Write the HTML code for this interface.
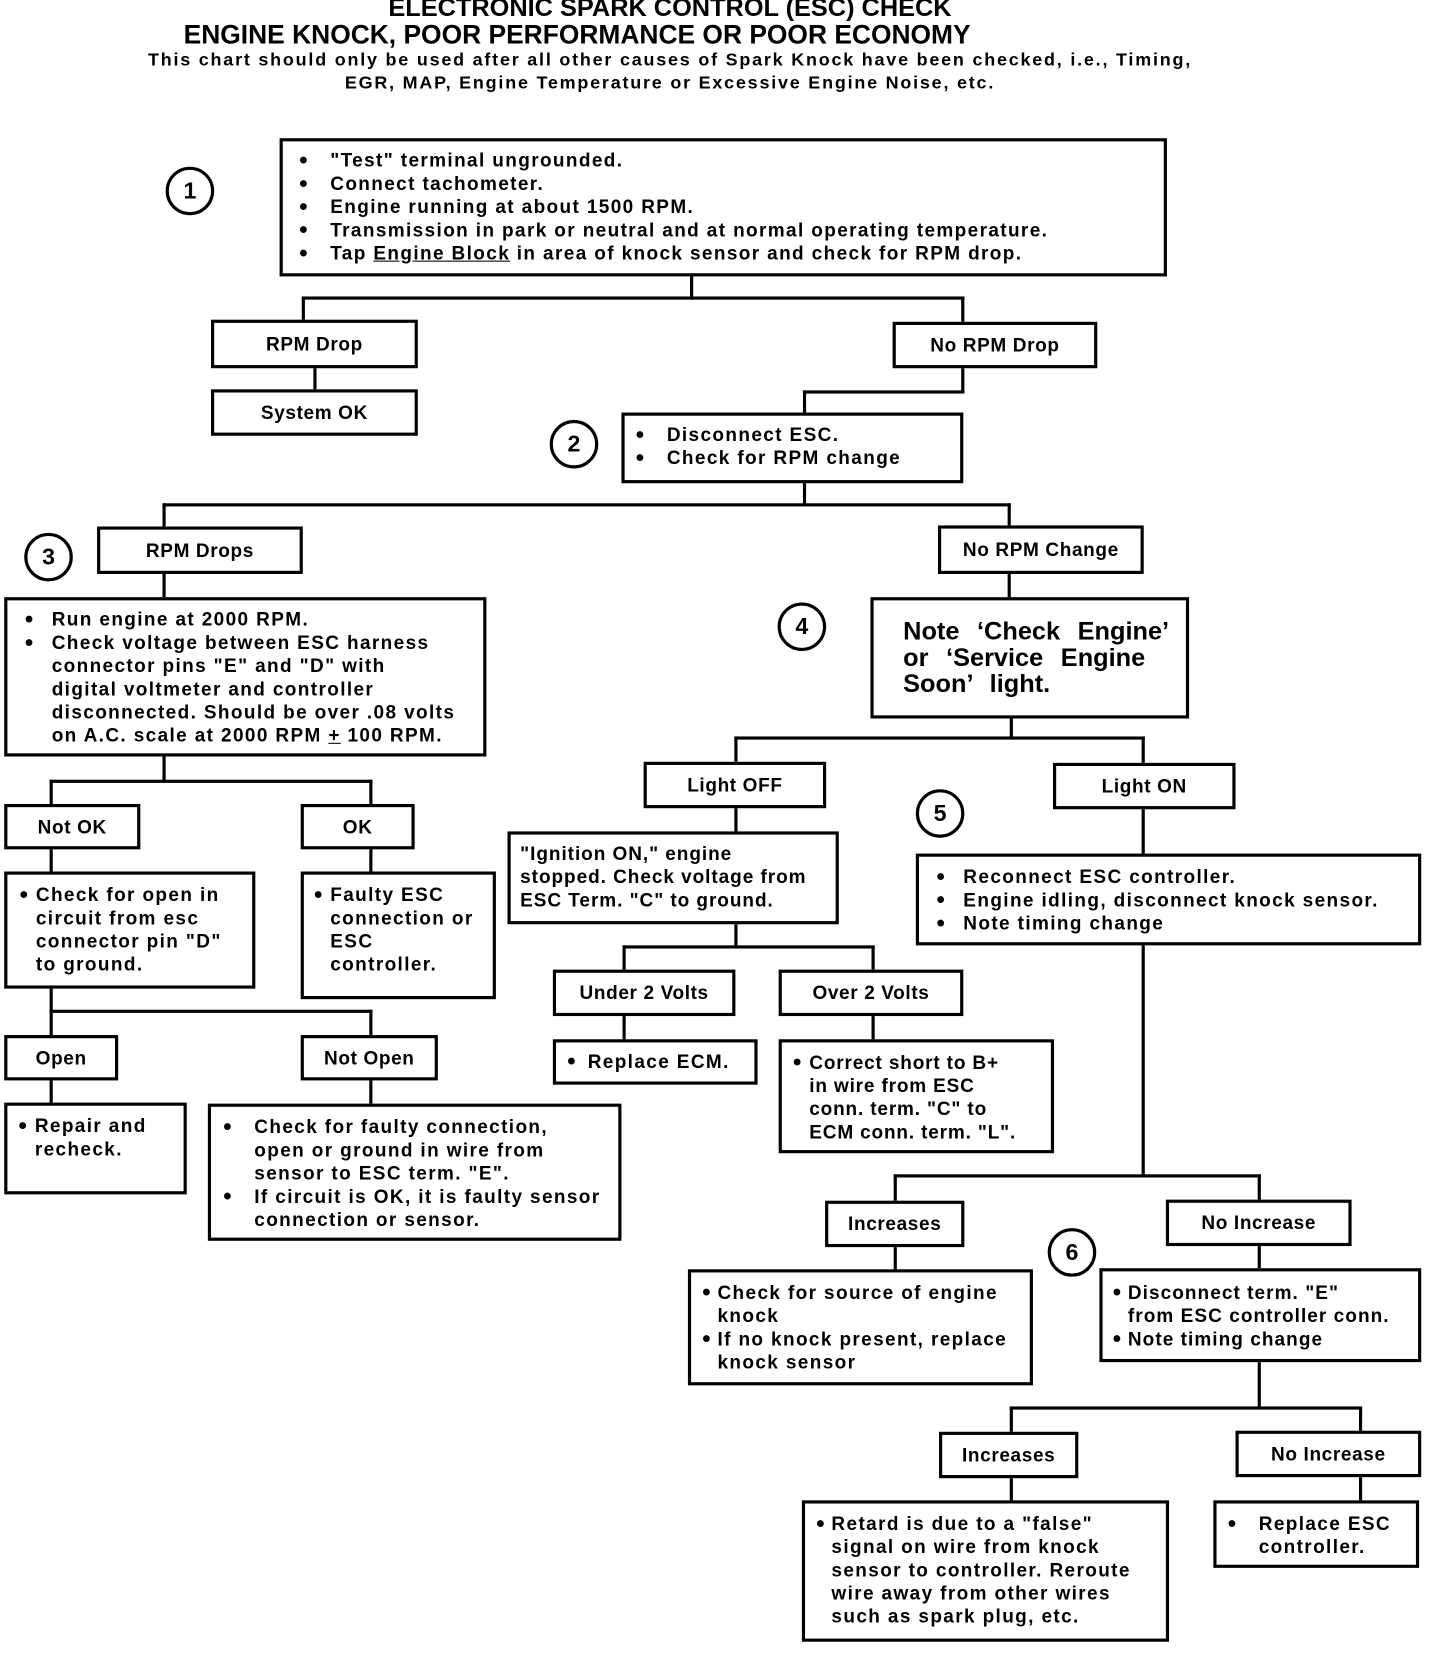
<!DOCTYPE html>
<html><head><meta charset="utf-8">
<style>
html,body{margin:0;padding:0;background:#fff;}
body{width:1456px;height:1658px;overflow:hidden;position:relative;}
#w{position:absolute;left:0;top:0;width:1380px;height:1572px;transform:scale(1.0551);transform-origin:0 0;font-family:"Liberation Sans",sans-serif;font-weight:bold;color:#000;}
.b{position:absolute;box-sizing:border-box;border:3px solid #000;background:#fff;font-size:18px;line-height:22px;letter-spacing:1.3px;}
.c{display:flex;align-items:center;justify-content:center;letter-spacing:0.6px;}
.h{position:absolute;height:3px;background:#000;}
.v{position:absolute;width:3px;background:#000;}
.l{position:relative;white-space:nowrap;}
.l i{position:absolute;font-style:normal;font-size:15px;}
.ci{position:absolute;box-sizing:border-box;border:3px solid #000;border-radius:50%;width:46px;height:46px;display:flex;align-items:center;justify-content:center;font-size:22px;}
.t{position:absolute;white-space:nowrap;text-align:center;left:0;width:1270px;}
</style></head><body><div id="w">

<div class="t" style="top:-6px;font-size:24px;">ELECTRONIC SPARK CONTROL (ESC) CHECK</div>
<div class="t" style="top:19px;font-size:25px;left:-88px;">ENGINE KNOCK, POOR PERFORMANCE OR POOR ECONOMY</div>
<div class="t" style="top:47px;font-size:17px;letter-spacing:1.7px;">This chart should only be used after all other causes of Spark Knock have been checked, i.e., Timing,</div>
<div class="t" style="top:69px;font-size:17px;letter-spacing:1.7px;">EGR, MAP, Engine Temperature or Excessive Engine Noise, etc.</div>

<!-- connectors -->
<div class="v" style="left:654px;top:262px;height:22px"></div>
<div class="h" style="left:286px;top:281px;width:628px"></div>
<div class="v" style="left:286px;top:281px;height:24px"></div>
<div class="v" style="left:911px;top:281px;height:26px"></div>
<div class="v" style="left:297px;top:348px;height:22px"></div>
<div class="v" style="left:911px;top:348px;height:24px"></div>
<div class="h" style="left:761px;top:370px;width:153px"></div>
<div class="v" style="left:761px;top:370px;height:22px"></div>
<div class="v" style="left:761px;top:457px;height:22px"></div>
<div class="h" style="left:154px;top:477px;width:804px"></div>
<div class="v" style="left:154px;top:477px;height:24px"></div>
<div class="v" style="left:955px;top:477px;height:23px"></div>
<div class="v" style="left:955px;top:543px;height:24px"></div>
<div class="v" style="left:154px;top:543px;height:24px"></div>
<div class="v" style="left:957px;top:680px;height:20px"></div>
<div class="h" style="left:696px;top:698px;width:389px"></div>
<div class="v" style="left:696px;top:698px;height:25px"></div>
<div class="v" style="left:1082px;top:698px;height:26px"></div>
<div class="v" style="left:696px;top:765px;height:24px"></div>
<div class="v" style="left:1082px;top:766px;height:44px"></div>
<div class="v" style="left:696px;top:875px;height:23px"></div>
<div class="h" style="left:590px;top:896px;width:239px"></div>
<div class="v" style="left:590px;top:896px;height:24px"></div>
<div class="v" style="left:826px;top:896px;height:24px"></div>
<div class="v" style="left:590px;top:962px;height:24px"></div>
<div class="v" style="left:826px;top:962px;height:24px"></div>
<div class="v" style="left:1082px;top:895px;height:220px"></div>
<div class="h" style="left:847px;top:1113px;width:348px"></div>
<div class="v" style="left:847px;top:1113px;height:26px"></div>
<div class="v" style="left:1192px;top:1113px;height:25px"></div>
<div class="v" style="left:847px;top:1181px;height:23px"></div>
<div class="v" style="left:1192px;top:1180px;height:23px"></div>
<div class="v" style="left:1192px;top:1290px;height:45px"></div>
<div class="h" style="left:957px;top:1333px;width:334px"></div>
<div class="v" style="left:957px;top:1333px;height:25px"></div>
<div class="v" style="left:1288px;top:1333px;height:24px"></div>
<div class="v" style="left:957px;top:1400px;height:23px"></div>
<div class="v" style="left:1288px;top:1399px;height:24px"></div>
<!-- left -->
<div class="v" style="left:154px;top:716px;height:25px"></div>
<div class="h" style="left:47px;top:739px;width:306px"></div>
<div class="v" style="left:47px;top:739px;height:24px"></div>
<div class="v" style="left:350px;top:739px;height:24px"></div>
<div class="v" style="left:47px;top:804px;height:23px"></div>
<div class="v" style="left:350px;top:804px;height:23px"></div>
<div class="v" style="left:47px;top:936px;height:46px"></div>
<div class="h" style="left:47px;top:957px;width:306px"></div>
<div class="v" style="left:350px;top:957px;height:25px"></div>
<div class="v" style="left:47px;top:1023px;height:23px"></div>
<div class="v" style="left:350px;top:1023px;height:24px"></div>

<!-- circles -->
<div class="ci" style="left:157px;top:158px">1</div>
<div class="ci" style="left:521px;top:398px">2</div>
<div class="ci" style="left:23px;top:505px">3</div>
<div class="ci" style="left:737px;top:571px">4</div>
<div class="ci" style="left:868px;top:748px">5</div>
<div class="ci" style="left:993px;top:1164px">6</div>

<!-- box 1 -->
<div class="b" style="left:265px;top:131px;width:841px;height:131px;padding:7px 0 0 45px;">
<div class="l"><i style="left:-30px">●</i>"Test" terminal ungrounded.</div>
<div class="l"><i style="left:-30px">●</i>Connect tachometer.</div>
<div class="l"><i style="left:-30px">●</i>Engine running at about 1500 RPM.</div>
<div class="l"><i style="left:-30px">●</i>Transmission in park or neutral and at normal operating temperature.</div>
<div class="l"><i style="left:-30px">●</i>Tap <u>Engine Block</u> in area of knock sensor and check for RPM drop.</div>
</div>

<div class="b c" style="left:200px;top:303px;width:196px;height:46px">RPM Drop</div>
<div class="b c" style="left:200px;top:369px;width:196px;height:44px">System OK</div>
<div class="b c" style="left:846px;top:305px;width:194px;height:44px">No RPM Drop</div>

<div class="b" style="left:589px;top:391px;width:324px;height:67px;padding:7px 0 0 40px">
<div class="l"><i style="left:-30px">●</i>Disconnect ESC.</div>
<div class="l"><i style="left:-30px">●</i>Check for RPM change</div>
</div>

<div class="b c" style="left:92px;top:499px;width:195px;height:45px">RPM Drops</div>
<div class="b c" style="left:889px;top:498px;width:195px;height:46px">No RPM Change</div>

<div class="b" style="left:825px;top:566px;width:302px;height:115px;padding:17px 0 0 28px;font-size:24px;line-height:25px;letter-spacing:0;">
<div class="l" style="word-spacing:10px">Note ‘Check Engine’</div>
<div class="l" style="word-spacing:10px">or ‘Service Engine</div>
<div class="l" style="word-spacing:10px">Soon’ light.</div>
</div>

<div class="b" style="left:4px;top:566px;width:457px;height:151px;padding:7px 0 0 42px">
<div class="l"><i style="left:-26px">●</i>Run engine at 2000 RPM.</div>
<div class="l"><i style="left:-26px">●</i>Check voltage between ESC harness</div>
<div class="l">connector pins "E" and "D" with</div>
<div class="l">digital voltmeter and controller</div>
<div class="l">disconnected. Should be over .08 volts</div>
<div class="l">on A.C. scale at 2000 RPM <u>+</u> 100 RPM.</div>
</div>

<div class="b c" style="left:610px;top:722px;width:173px;height:44px">Light OFF</div>
<div class="b c" style="left:998px;top:723px;width:173px;height:44px">Light ON</div>

<div class="b" style="left:481px;top:788px;width:314px;height:88px;padding:7px 0 0 9px;letter-spacing:0.9px">
<div class="l">"Ignition ON," engine</div>
<div class="l">stopped. Check voltage from</div>
<div class="l">ESC Term. "C" to ground.</div>
</div>

<div class="b" style="left:868px;top:809px;width:479px;height:87px;padding:8px 0 0 42px">
<div class="l"><i style="left:-26px">●</i>Reconnect ESC controller.</div>
<div class="l"><i style="left:-26px">●</i>Engine idling, disconnect knock sensor.</div>
<div class="l"><i style="left:-26px">●</i>Note timing change</div>
</div>

<div class="b c" style="left:4px;top:762px;width:129px;height:43px">Not OK</div>
<div class="b c" style="left:285px;top:762px;width:108px;height:43px">OK</div>

<div class="b" style="left:4px;top:826px;width:238px;height:111px;padding:8px 0 0 27px">
<div class="l"><i style="left:-16px">●</i> Check for open in</div>
<div class="l">circuit from esc</div>
<div class="l">connector pin "D"</div>
<div class="l">to ground.</div>
</div>

<div class="b" style="left:285px;top:826px;width:185px;height:121px;padding:8px 0 0 25px">
<div class="l"><i style="left:-16px">●</i> Faulty ESC</div>
<div class="l">connection or</div>
<div class="l">ESC</div>
<div class="l">controller.</div>
</div>

<div class="b c" style="left:524px;top:919px;width:173px;height:44px">Under 2 Volts</div>
<div class="b c" style="left:738px;top:919px;width:175px;height:44px">Over 2 Volts</div>
<div class="b" style="left:524px;top:985px;width:194px;height:43px;padding:7px 0 0 30px">
<div class="l"><i style="left:-20px">●</i>Replace ECM.</div>
</div>
<div class="b" style="left:738px;top:985px;width:261px;height:108px;padding:8px 0 0 26px;letter-spacing:0.8px">
<div class="l"><i style="left:-16px">●</i>Correct short to B+</div>
<div class="l">in wire from ESC</div>
<div class="l">conn. term. "C" to</div>
<div class="l">ECM conn. term. "L".</div>
</div>

<div class="b c" style="left:4px;top:981px;width:108px;height:43px">Open</div>
<div class="b c" style="left:285px;top:981px;width:130px;height:43px">Not Open</div>
<div class="b" style="left:4px;top:1045px;width:173px;height:87px;padding:8px 0 0 26px">
<div class="l"><i style="left:-16px">●</i>Repair and</div>
<div class="l">recheck.</div>
</div>
<div class="b" style="left:197px;top:1046px;width:392px;height:130px;padding:8px 0 0 41px">
<div class="l"><i style="left:-30px">●</i>Check for faulty connection,</div>
<div class="l">open or ground in wire from</div>
<div class="l">sensor to ESC term. "E".</div>
<div class="l"><i style="left:-30px">●</i>If circuit is OK, it is faulty sensor</div>
<div class="l">connection or sensor.</div>
</div>

<div class="b c" style="left:782px;top:1138px;width:132px;height:44px">Increases</div>
<div class="b c" style="left:1105px;top:1137px;width:176px;height:44px">No Increase</div>
<div class="b" style="left:652px;top:1203px;width:327px;height:110px;padding:8px 0 0 25px">
<div class="l"><i style="left:-15px">●</i>Check for source of engine</div>
<div class="l">knock</div>
<div class="l"><i style="left:-15px">●</i>If no knock present, replace</div>
<div class="l">knock sensor</div>
</div>
<div class="b" style="left:1042px;top:1202px;width:305px;height:89px;padding:9px 0 0 24px;letter-spacing:1px">
<div class="l"><i style="left:-15px">●</i>Disconnect term. "E"</div>
<div class="l">from ESC controller conn.</div>
<div class="l"><i style="left:-15px">●</i>Note timing change</div>
</div>

<div class="b c" style="left:890px;top:1357px;width:132px;height:44px">Increases</div>
<div class="b c" style="left:1171px;top:1356px;width:176px;height:44px">No Increase</div>
<div class="b" style="left:760px;top:1422px;width:348px;height:134px;padding:8px 0 0 25px">
<div class="l"><i style="left:-15px">●</i>Retard is due to a "false"</div>
<div class="l">signal on wire from knock</div>
<div class="l">sensor to controller. Reroute</div>
<div class="l">wire away from other wires</div>
<div class="l">such as spark plug, etc.</div>
</div>
<div class="b" style="left:1150px;top:1422px;width:195px;height:64px;padding:8px 0 0 40px">
<div class="l"><i style="left:-30px">●</i>Replace ESC</div>
<div class="l">controller.</div>
</div>

</div></body></html>
